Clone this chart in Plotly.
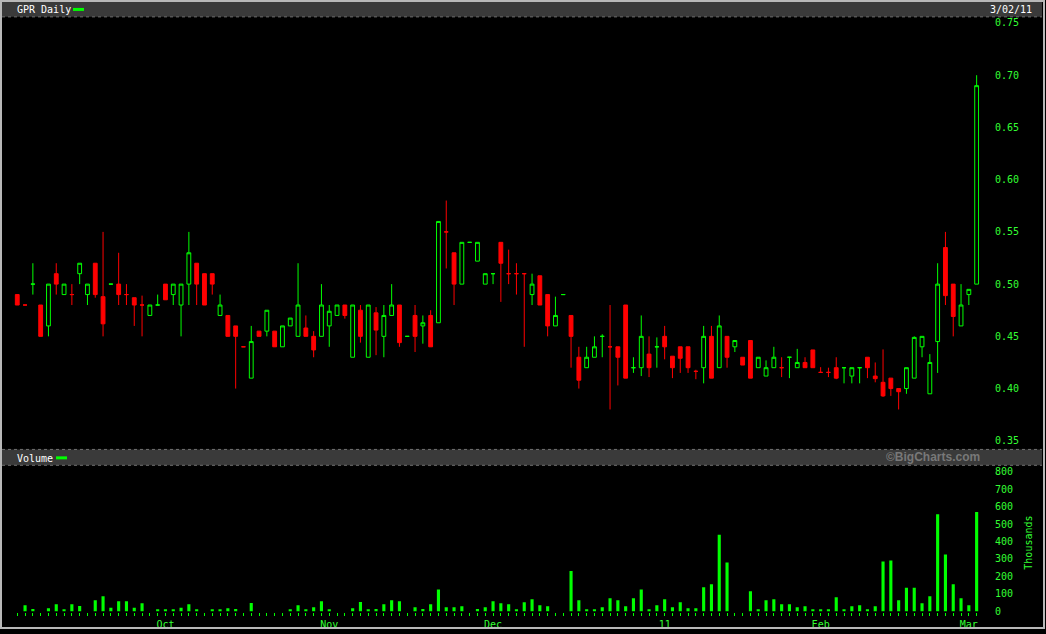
import pandas as pd
import plotly.graph_objects as go

# ---- data -------------------------------------------------------------
holidays = ["2010-09-06", "2010-11-25", "2010-12-24", "2011-01-17", "2011-02-21"]
dates = [d for d in pd.bdate_range("2010-09-03", "2011-03-02") if d.strftime("%Y-%m-%d") not in holidays]

open_ = [0.49, 0.48, 0.50, 0.48, 0.46, 0.51, 0.49, 0.49, 0.51, 0.49,
         0.52, 0.488, 0.50, 0.50, 0.49, 0.487, 0.48, 0.47, 0.48, 0.50,
         0.49, 0.48, 0.50, 0.52, 0.51, 0.51, 0.47, 0.47, 0.46, 0.44,
         0.41, 0.455, 0.455, 0.455, 0.44, 0.46, 0.45, 0.458, 0.45, 0.45,
         0.46, 0.47, 0.48, 0.43, 0.475, 0.43, 0.4725, 0.45, 0.47, 0.48,
         0.45, 0.47, 0.46, 0.47, 0.463, 0.55, 0.53, 0.50, 0.54, 0.522,
         0.50, 0.51, 0.54, 0.51, 0.51, 0.51, 0.49, 0.508, 0.49, 0.46,
         0.49, 0.47, 0.43, 0.42, 0.43, 0.45, 0.44, 0.44, 0.48, 0.42,
         0.42, 0.433, 0.44, 0.45, 0.431, 0.44, 0.44, 0.4165, 0.42, 0.45,
         0.42, 0.45, 0.44, 0.43, 0.446, 0.42, 0.412, 0.42, 0.42, 0.43,
         0.42, 0.425, 0.437, 0.4155, 0.4155, 0.42, 0.42, 0.412, 0.42, 0.43,
         0.412, 0.406, 0.41, 0.40, 0.40, 0.41, 0.44, 0.395, 0.445, 0.535,
         0.50, 0.46, 0.49, 0.50]
high = [0.49, 0.48, 0.52, 0.48, 0.50, 0.52, 0.50, 0.50, 0.52, 0.50,
        0.52, 0.55, 0.50, 0.53, 0.50, 0.487, 0.489, 0.48, 0.49, 0.50,
        0.50, 0.50, 0.55, 0.52, 0.51, 0.51, 0.49, 0.47, 0.46, 0.44,
        0.46, 0.455, 0.475, 0.455, 0.46, 0.4675, 0.52, 0.47, 0.455, 0.50,
        0.48, 0.48, 0.48, 0.48, 0.48, 0.48, 0.478, 0.48, 0.50, 0.48,
        0.45, 0.48, 0.47, 0.475, 0.56, 0.58, 0.53, 0.54, 0.54, 0.54,
        0.51, 0.51, 0.54, 0.533, 0.52, 0.51, 0.51, 0.508, 0.49, 0.488,
        0.49, 0.47, 0.44, 0.44, 0.45, 0.452, 0.48, 0.44, 0.48, 0.43,
        0.47, 0.45, 0.449, 0.46, 0.431, 0.44, 0.44, 0.418, 0.46, 0.46,
        0.47, 0.45, 0.446, 0.43, 0.446, 0.43, 0.427, 0.44, 0.43, 0.43,
        0.438, 0.43, 0.437, 0.4205, 0.42, 0.43, 0.42, 0.42, 0.42, 0.43,
        0.425, 0.4375, 0.41, 0.40, 0.42, 0.45, 0.45, 0.433, 0.52, 0.55,
        0.50, 0.50, 0.495, 0.70]
low = [0.48, 0.48, 0.49, 0.45, 0.45, 0.49, 0.49, 0.48, 0.50, 0.48,
       0.487, 0.45, 0.50, 0.48, 0.48, 0.46, 0.45, 0.47, 0.48, 0.485,
       0.48, 0.45, 0.48, 0.48, 0.48, 0.49, 0.47, 0.45, 0.40, 0.44,
       0.41, 0.45, 0.45, 0.44, 0.44, 0.46, 0.45, 0.45, 0.43, 0.45,
       0.44, 0.47, 0.467, 0.43, 0.444, 0.43, 0.432, 0.43, 0.47, 0.44,
       0.45, 0.435, 0.443, 0.44, 0.463, 0.515, 0.48, 0.50, 0.54, 0.522,
       0.50, 0.50, 0.483, 0.50, 0.49, 0.44, 0.48, 0.48, 0.45, 0.46,
       0.49, 0.42, 0.40, 0.42, 0.43, 0.43, 0.38, 0.403, 0.41, 0.415,
       0.412, 0.411, 0.42, 0.428, 0.41, 0.415, 0.415, 0.409, 0.405, 0.41,
       0.42, 0.42, 0.435, 0.4225, 0.41, 0.42, 0.412, 0.42, 0.411, 0.41,
       0.42, 0.42, 0.42, 0.4155, 0.411, 0.409, 0.405, 0.405, 0.405, 0.41,
       0.406, 0.392, 0.393, 0.38, 0.395, 0.41, 0.43, 0.395, 0.415, 0.48,
       0.45, 0.46, 0.48, 0.50]
close = [0.48, 0.48, 0.50, 0.45, 0.50, 0.50, 0.50, 0.49, 0.52, 0.50,
         0.49, 0.462, 0.50, 0.49, 0.49, 0.48, 0.48, 0.48, 0.48, 0.485,
         0.50, 0.50, 0.53, 0.50, 0.48, 0.50, 0.48, 0.45, 0.45, 0.44,
         0.445, 0.45, 0.475, 0.44, 0.46, 0.4675, 0.48, 0.45, 0.437, 0.48,
         0.474, 0.48, 0.47, 0.48, 0.45, 0.48, 0.456, 0.47, 0.48, 0.444,
         0.45, 0.45, 0.463, 0.44, 0.56, 0.55, 0.50, 0.54, 0.54, 0.54,
         0.51, 0.51, 0.52, 0.51, 0.51, 0.51, 0.50, 0.48, 0.46, 0.47,
         0.49, 0.45, 0.408, 0.43, 0.44, 0.45, 0.44, 0.43, 0.41, 0.42,
         0.45, 0.42, 0.44, 0.44, 0.42, 0.429, 0.42, 0.4165, 0.45, 0.41,
         0.46, 0.43, 0.446, 0.4225, 0.41, 0.43, 0.42, 0.43, 0.42, 0.43,
         0.425, 0.42, 0.42, 0.4155, 0.4155, 0.41, 0.42, 0.42, 0.42, 0.42,
         0.4095, 0.393, 0.40, 0.397, 0.42, 0.449, 0.45, 0.425, 0.50, 0.489,
         0.469, 0.48, 0.495, 0.69]
volume_k = [0, 34, 13, 0, 17, 40, 8, 40, 30, 0,
            63, 86, 19, 57, 57, 19, 46, 0, 8, 11,
            6, 19, 40, 11, 0, 6, 8, 17, 13, 0,
            47, 0, 0, 0, 0, 8, 34, 8, 23, 57,
            8, 0, 0, 17, 53, 8, 13, 40, 63, 57,
            0, 23, 13, 40, 125, 23, 23, 28, 0, 13,
            23, 57, 46, 40, 8, 51, 68, 34, 28, 0,
            0, 230, 63, 6, 6, 23, 74, 63, 28, 74,
            125, 11, 34, 68, 23, 51, 17, 17, 137, 154,
            439, 280, 0, 0, 114, 6, 63, 68, 40, 40,
            23, 28, 6, 6, 11, 80, 11, 28, 34, 6,
            28, 285, 291, 63, 135, 135, 46, 86, 557, 325,
            154, 74, 34, 570]
price_ticks = [0.35, 0.40, 0.45, 0.50, 0.55, 0.60, 0.65, 0.70, 0.75]
volume_ticks = [0, 100, 200, 300, 400, 500, 600, 700, 800]
month_names = {10: "Oct", 11: "Nov", 12: "Dec", 1: "11", 2: "Feb", 3: "Mar"}
title_text = "GPR Daily"
date_text = "3/02/11"

# ---- derived ----------------------------------------------------------
idx = list(range(len(dates)))
tick_text = []
for k, d in enumerate(dates):
    first = k > 0 and d.month != dates[k - 1].month
    tick_text.append(month_names.get(d.month, "") if first else "")

W, H = 1046, 634
def px(x):
    return x / W
def py(y):
    return 1 - y / H

GREEN = "#00ff00"
LBL = "#33ff33"
RED = "#ff0000"
MONO = "DejaVu Sans Mono"

fig = go.Figure()
fig.add_trace(go.Candlestick(
    x=idx, open=open_, high=high, low=low, close=close,
    increasing=dict(line=dict(color=GREEN, width=1), fillcolor="#000000"),
    decreasing=dict(line=dict(color=RED, width=1), fillcolor=RED),
    whiskerwidth=0, hoverinfo="skip", xaxis="x", yaxis="y",
))
fig.add_trace(go.Bar(
    x=idx, y=volume_k, width=0.4, marker=dict(color=GREEN, line=dict(width=0)),
    hoverinfo="skip", xaxis="x2", yaxis="y2",
))

xr = [-1.7, 124.2]
xdom = [px(4), px(986)]
fig.update_layout(
    width=W, height=H, margin=dict(l=0, r=0, t=0, b=0),
    paper_bgcolor="#000000", plot_bgcolor="#000000", showlegend=False,
    boxgap=0.3,
    xaxis=dict(domain=xdom, range=xr, visible=False, anchor="y",
               rangeslider=dict(visible=False), fixedrange=True),
    yaxis=dict(domain=[py(450), py(18)], range=[0.3446, 0.7549], side="right",
               anchor="x", tickvals=price_ticks,
               ticktext=[f"{v:.2f}" for v in price_ticks],
               tickfont=dict(family=MONO, size=10, color=LBL),
               showgrid=False, zeroline=False, showline=False,
               ticks="outside", ticklen=6, tickcolor="rgba(0,0,0,0)"),
    xaxis2=dict(domain=xdom, range=xr, anchor="y2", tickvals=idx, ticktext=tick_text,
                tickfont=dict(family=MONO, size=10, color=LBL), tickangle=0,
                ticks="outside", ticklen=3, tickwidth=1, tickcolor=GREEN,
                showgrid=False, zeroline=False, showline=False),
    yaxis2=dict(domain=[py(617), py(468)], range=[-5.7, 843.8], side="right",
                anchor="x2", tickvals=volume_ticks,
                tickfont=dict(family=MONO, size=10, color=LBL),
                showgrid=False, zeroline=False, showline=False,
                ticks="outside", ticklen=6, tickcolor="rgba(0,0,0,0)"),
)

HDR = "#3a3a3a"
shapes = [
    dict(type="rect", xref="paper", yref="paper", x0=px(2), x1=px(1042), y0=py(17), y1=py(2),
         fillcolor=HDR, line=dict(width=0)),
    dict(type="rect", xref="paper", yref="paper", x0=px(2), x1=px(1042), y0=py(469), y1=py(453),
         fillcolor=HDR, line=dict(width=0)),
    dict(type="line", xref="paper", yref="paper", x0=px(2), x1=px(1042), y0=py(17), y1=py(17),
         line=dict(color="#707070", width=1, dash="dot")),
    dict(type="line", xref="paper", yref="paper", x0=px(2), x1=px(1042), y0=py(453), y1=py(453),
         line=dict(color="#707070", width=1, dash="dot")),
    dict(type="line", xref="paper", yref="paper", x0=px(2), x1=px(1042), y0=py(469), y1=py(469),
         line=dict(color="#707070", width=1, dash="dot")),
    dict(type="line", xref="paper", yref="paper", x0=px(73), x1=px(84), y0=py(9.5), y1=py(9.5),
         line=dict(color=GREEN, width=3)),
    dict(type="line", xref="paper", yref="paper", x0=px(56), x1=px(67), y0=py(461.5), y1=py(461.5),
         line=dict(color=GREEN, width=3)),
    dict(type="rect", xref="paper", yref="paper", x0=px(1), x1=px(1044), y0=py(633), y1=py(1),
         line=dict(color="#b8b8b8", width=2)),
]
annotations = [
    dict(text=title_text, x=px(15), y=py(10), xref="paper", yref="paper", xanchor="left",
         yanchor="middle", showarrow=False, font=dict(family=MONO, size=10, color="#ffffff")),
    dict(text=date_text, x=px(1034), y=py(10), xref="paper", yref="paper", xanchor="right",
         yanchor="middle", showarrow=False, font=dict(family=MONO, size=10, color="#ffffff")),
    dict(text="Volume", x=px(15), y=py(462), xref="paper", yref="paper", xanchor="left",
         yanchor="middle", showarrow=False, font=dict(family=MONO, size=10, color="#ffffff")),
    dict(text="<b>©BigCharts.com</b>", x=px(982), y=py(461), xref="paper", yref="paper",
         xanchor="right", yanchor="middle", showarrow=False,
         font=dict(family="Liberation Sans", size=12, color="#787878")),
    dict(text="Thousands", x=px(1029), y=py(547), xref="paper", yref="paper", xanchor="center",
         yanchor="middle", textangle=-90, showarrow=False,
         font=dict(family=MONO, size=10, color=LBL)),
]
fig.update_layout(shapes=shapes, annotations=annotations)
fig.write_html("out.html", config={"displayModeBar": False},
               post_script="document.body.style.margin='0';document.body.style.overflow='hidden';")
